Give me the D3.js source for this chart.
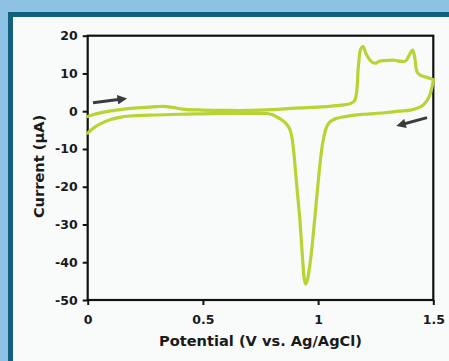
<!DOCTYPE html>
<html>
<head>
<meta charset="utf-8">
<script src="https://d3js.org/d3.v7.min.js"></script>
<style>
  body { margin: 0; background: #8ec2e4; }
  svg { display: block; }
  .tick text { font-family: "DejaVu Sans", sans-serif; font-weight: bold; font-size: 12.5px; fill: #1a1a1a; }
</style>
</head>
<body>
<svg id="chart" width="449" height="361"></svg>
<script>
// forward scan (0 -> 1.5 V), potential in V, current in µA
var fwdV = [0, 0.02, 0.05, 0.1, 0.15, 0.2, 0.25, 0.3, 0.33, 0.37, 0.42, 0.5, 0.6, 0.7, 0.8, 0.9, 1.0, 1.05, 1.1, 1.14, 1.16, 1.175, 1.185, 1.195, 1.21, 1.23, 1.247, 1.265, 1.29, 1.33, 1.36, 1.38, 1.395, 1.41, 1.42, 1.43, 1.445, 1.465, 1.485, 1.5];
var fwdI = [-1.4, -1.0, -0.5, 0.1, 0.5, 0.8, 1.0, 1.2, 1.3, 1.0, 0.5, 0.3, 0.2, 0.2, 0.4, 0.8, 1.1, 1.3, 1.6, 2.0, 3.0, 12, 16.5, 17.1, 15, 13.2, 12.7, 13.2, 13.4, 13.5, 13.2, 13.3, 14.8, 16.2, 14, 10.3, 9.5, 9.1, 8.7, 8.3];

// reverse scan (1.5 -> 0 V)
var revV = [1.5, 1.495, 1.485, 1.47, 1.455, 1.43, 1.4, 1.35, 1.29, 1.2, 1.15, 1.1, 1.08, 1.065, 1.05, 1.035, 1.02, 1.01, 1.0, 0.99, 0.98, 0.97, 0.96, 0.952, 0.946, 0.94, 0.935, 0.928, 0.92, 0.91, 0.9, 0.893, 0.885, 0.875, 0.86, 0.84, 0.82, 0.8, 0.78, 0.7, 0.6, 0.5, 0.4, 0.3, 0.2, 0.15, 0.1, 0.05, 0.02, 0];
var revI = [8.3, 6.5, 4.3, 2.6, 1.6, 0.8, 0.3, 0, -0.4, -0.8, -1.1, -1.6, -1.9, -2.3, -2.9, -4.5, -8.4, -13, -19, -25.5, -32, -38, -42.5, -45, -45.8, -44.5, -41, -35, -28, -21.5, -14.5, -10, -6.5, -4.5, -3.2, -2.2, -1.5, -0.9, -0.6, -0.6, -0.6, -0.7, -0.8, -1.0, -1.2, -1.5, -2.2, -3.5, -4.7, -5.8];

var xTicks = [0, 0.5, 1, 1.5];
var yTicks = [-50, -40, -30, -20, -10, 0, 10, 20];

// scan direction arrows [V0, I0, V1, I1]
var arrows = [[0.023, 2.25, 0.176, 3.4], [1.473, -1.7, 1.334, -4.0]];

var svg = d3.select("#chart");

// panel
svg.append("rect").attr("x", 10.5).attr("y", 14.5).attr("width", 460).attr("height", 380)
  .attr("fill", "#f9fbfb").attr("stroke", "#135f7e").attr("stroke-width", 5);

var x = d3.scaleLinear().domain([0, 1.5]).range([87.7, 433.3]);
var y = d3.scaleLinear().domain([-50, 20]).range([300, 35.7]);

var defs = svg.append("defs");
defs.append("marker").attr("id", "head")
  .attr("viewBox", "0 0 10 10").attr("refX", 5).attr("refY", 5)
  .attr("markerWidth", 3.4).attr("markerHeight", 3.2).attr("orient", "auto")
  .attr("markerUnits", "strokeWidth")
  .append("path").attr("d", "M0,0L10,5L0,10z").attr("fill", "#3b3b3b");

svg.append("g")
  .attr("transform", "translate(0,300)")
  .call(d3.axisBottom(x).tickValues(xTicks).tickFormat(function(d){ return String(d); }).tickSize(5).tickSizeOuter(0).tickPadding(10))
  .call(function(g){ g.select(".domain").remove(); g.selectAll("line").attr("stroke", "#111").attr("stroke-width", 2); });

svg.append("g")
  .attr("transform", "translate(87.7,0)")
  .call(d3.axisLeft(y).tickValues(yTicks).tickFormat(function(d){ return String(d); }).tickSize(5).tickSizeOuter(0).tickPadding(5))
  .call(function(g){ g.select(".domain").remove(); g.selectAll("line").attr("stroke", "#111").attr("stroke-width", 2); });

// frame
svg.append("rect")
  .attr("x", x(0)).attr("y", y(20))
  .attr("width", x(1.5) - x(0)).attr("height", y(-50) - y(20))
  .attr("fill", "none").attr("stroke", "#111").attr("stroke-width", 2.2);

var line = d3.line()
  .x(function(d){ return x(d[0]); })
  .y(function(d){ return y(d[1]); })
  .curve(d3.curveCatmullRom.alpha(0.5));

var fwd = fwdV.map(function(v, i){ return [v, fwdI[i]]; });
var rev = revV.map(function(v, i){ return [v, revI[i]]; });

[fwd, rev].forEach(function(s){
  svg.append("path").attr("d", line(s))
    .attr("fill", "none").attr("stroke", "#b6d534")
    .attr("stroke-width", 3.2).attr("stroke-linejoin", "round").attr("stroke-linecap", "round");
});

arrows.forEach(function(a){
  var dx = x(a[2]) - x(a[0]), dy = y(a[3]) - y(a[1]);
  var len = Math.sqrt(dx*dx + dy*dy);
  svg.append("line")
    .attr("x1", x(a[0])).attr("y1", y(a[1]))
    .attr("x2", x(a[2]) - dx/len*6).attr("y2", y(a[3]) - dy/len*6)
    .attr("stroke", "#3b3b3b").attr("stroke-width", 3)
    .attr("marker-end", "url(#head)");
});

svg.append("text")
  .attr("x", (x(0) + x(1.5)) / 2).attr("y", 346)
  .attr("text-anchor", "middle")
  .style("font-family", "DejaVu Sans, sans-serif").style("font-weight", "bold").style("font-size", "14.6px")
  .attr("fill", "#1a1a1a")
  .text("Potential (V vs. Ag/AgCl)");

svg.append("text")
  .attr("transform", "translate(44,166.5) rotate(-90)")
  .attr("text-anchor", "middle")
  .style("font-family", "DejaVu Sans, sans-serif").style("font-weight", "bold").style("font-size", "14.6px")
  .attr("fill", "#1a1a1a")
  .text("Current (µA)");
</script>
</body>
</html>
